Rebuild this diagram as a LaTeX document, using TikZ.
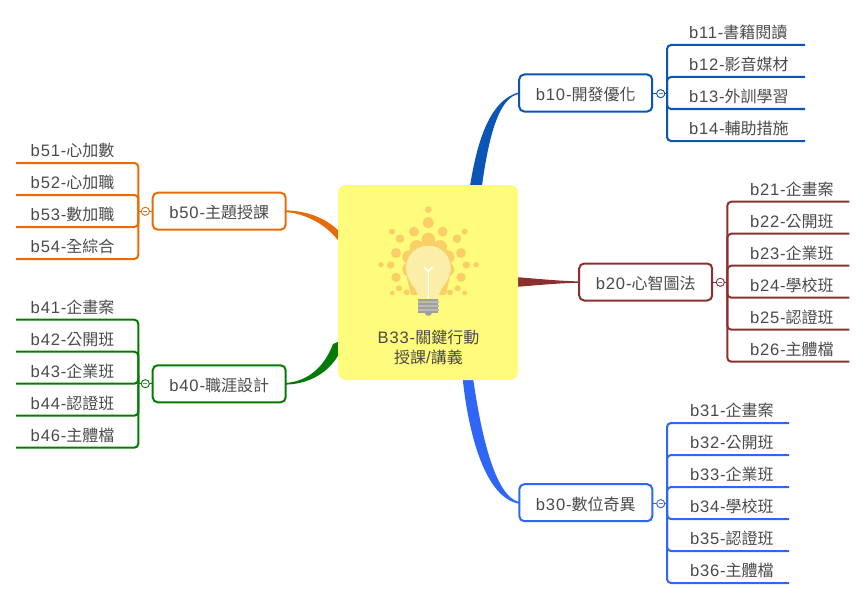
\documentclass[tikz,border=0pt]{standalone}
\usepackage{fontspec}
\setmainfont{Noto Sans CJK TC}
\newfontfamily\latf[LetterSpace=5]{Liberation Sans}
\newcommand{\lat}[1]{{\fontsize{16.6}{20}\latf #1}}
\usetikzlibrary{backgrounds}
\definecolor{cA}{HTML}{0A55B5}
\definecolor{cB}{HTML}{8E2F2F}
\definecolor{cC}{HTML}{2F66F8}
\definecolor{cD}{HTML}{067A06}
\definecolor{cE}{HTML}{E66C0A}
\definecolor{mainfill}{HTML}{FFFB7C}
\definecolor{inkc}{HTML}{4A4A4A}
\definecolor{sun}{HTML}{FBCF68}
\definecolor{glass}{HTML}{FBEEA8}
\tikzset{
  txt/.style={text=inkc,font=\fontsize{16}{20}\selectfont},
  topic/.style={txt,draw=#1,line width=2pt,fill=white,rounded corners=5pt,minimum width=133pt,minimum height=37pt,inner sep=0pt,outer sep=0pt,text height=15.5pt,text depth=0pt},
  collapse/.style={circle,draw=#1,line width=.8pt,fill=white,minimum size=8pt,inner sep=0pt,outer sep=0pt,
    path picture={\draw[inkc!70,line width=.6pt] ([xshift=-2pt]path picture bounding box.center)--([xshift=2pt]path picture bounding box.center);}},
  leaf/.style 2 args={txt,text width=#1,align=left,inner sep=0pt,outer sep=0pt,text height=13pt,text depth=6.7pt,execute at begin node={\hspace*{#2}}},
  leafline/.style={draw=#1,line width=2pt,rounded corners=4pt},
  stub/.style={draw=#1,line width=1.2pt},
  mainbox/.style={fill=mainfill,rounded corners=8pt,minimum width=180pt,minimum height=195pt,inner sep=0pt,outer sep=0pt},
}
\begin{document}
\begin{tikzpicture}[x=1pt,y=-1pt]
\useasboundingbox (0,0) rectangle (866,599);
% centre
\node[mainbox] (main) at (428,282.5) {};
\begin{scope}[shift={(375,200)},x=.3333pt,y=-.3333pt]
  \foreach \a in {0,36,...,324} \fill[sun] (160,190)+(\a+18:60) circle[radius=21];
  \fill[sun] (160,190) circle[radius=66];
  \fill[sun] (160,118) circle[radius=20];
  \fill[sun] (108,285)--(212,285)--(225,230)--(95,230)--cycle;
  \foreach \cx/\cy/\r in {160/29/10,160/68/17,117/95/15,203/95/15,75/116/13,246/116/13,51/95/9,269/95/9,63/159/15,258/159/15,47/195/11,274/195/11,18/194/8,303/194/8,63/232/14,258/232/14,72/265/9,248/265/9,95/277/9,225/277/9,52/279/7,269/279/7}
    \fill[sun] (\cx,\cy) circle[radius=\r];
  \fill[glass] (130,296) .. controls (130,265) and (93,245) .. (93,204) .. controls (93,166) and (124,137) .. (160,137) .. controls (196,137) and (227,166) .. (227,204) .. controls (227,245) and (190,265) .. (190,296) -- cycle;
  \draw[white,line width=1.3pt] (160,296) -- (160,214) (147,201) -- (160,214) -- (173,201);
  \fill[gray!75] (130,296) rectangle (190,338);
  \fill[gray!75] (148,338) -- (172,338) -- (165,347) -- (155,347) -- cycle;
  \foreach \yy in {302,314,326} \fill[gray!55] (128,\yy) rectangle (192,\yy+6);
\end{scope}
\node[txt,align=center] (maintext) at (428.5,347.5) {\lat{B33-}關鍵行動\\授課\lat{/}講義};
% main topics
\node[topic=cA] (b10) at (585.7,93) {\lat{b10-}開發優化};
\node[topic=cB] (b20) at (645.7,282) {\lat{b20-}心智圖法};
\node[topic=cC] (b30) at (585.8,502.7) {\lat{b30-}數位奇異};
\node[topic=cD] (b40) at (219.2,383.8) {\lat{b40-}職涯設計};
\node[topic=cE] (b50) at (219.2,211.2) {\lat{b50-}主題授課};
% collapse buttons
\node[collapse=cA] (c1) at (660.7,93.7) {};
\node[collapse=cB] (c2) at (720.3,282.3) {};
\node[collapse=cC] (c3) at (660.7,503.7) {};
\node[collapse=cD] (c4) at (145.3,383.7) {};
\node[collapse=cE] (c5) at (145.3,211.3) {};
% leaves b1
\foreach \n/\yy/\t in {b11/45/書籍閱讀,b12/77/影音媒材,b13/109/外訓學習,b14/141/輔助措施}
  \node[leaf={138pt}{22pt},anchor=south west] (\n) at (667,\yy) {\lat{\n-}\t};
% leaves b2
\foreach \n/\yy/\t in {b21/201.7/企畫案,b22/233.7/公開班,b23/265.7/企業班,b24/297.7/學校班,b25/329.7/認證班,b26/361.7/主體檔}
  \node[leaf={122pt}{22.7pt},anchor=south west] (\n) at (727.3,\yy) {\lat{\n-}\t};
% leaves b3
\foreach \n/\yy/\t in {b31/423/企畫案,b32/455/公開班,b33/487/企業班,b34/519/學校班,b35/551/認證班,b36/583/主體檔}
  \node[leaf={122pt}{23pt},anchor=south west] (\n) at (667,\yy) {\lat{\n-}\t};
% leaves b4
\foreach \n/\yy/\t in {b41/319.7/企畫案,b42/351.7/公開班,b43/383.7/企業班,b44/415.7/認證班,b46/447.7/主體檔}
  \node[leaf={122.3pt}{14.7pt},anchor=south west] (\n) at (16,\yy) {\lat{\n-}\t};
% leaves b5
\foreach \n/\yy/\t in {b51/163/心加數,b52/195/心加職,b53/227/數加職,b54/259/全綜合}
  \node[leaf={122.3pt}{14.7pt},anchor=south west] (\n) at (16,\yy) {\lat{\n-}\t};
% leaf connectors
\foreach \l in {b11,b12,b13,b14} \draw[leafline=cA] (c1.center -| \l.south west) -- (\l.south west) -- (\l.south east);
\foreach \l in {b21,b22,b23,b24,b25,b26} \draw[leafline=cB] (c2.center -| \l.south west) -- (\l.south west) -- (\l.south east);
\foreach \l in {b31,b32,b33,b34,b35,b36} \draw[leafline=cC] (c3.center -| \l.south west) -- (\l.south west) -- (\l.south east);
\foreach \l in {b41,b42,b43,b44,b46} \draw[leafline=cD] (c4.center -| \l.south east) -- (\l.south east) -- (\l.south west);
\foreach \l in {b51,b52,b53,b54} \draw[leafline=cE] (c5.center -| \l.south east) -- (\l.south east) -- (\l.south west);
% stubs box - button - bracket
\draw[stub=cA] (b10.east |- c1) -- (c1) (c1) -- (c1 -| b13.south west);
\draw[stub=cB] (b20.east |- c2) -- (c2) (c2) -- (c2 -| b23.south west);
\draw[stub=cC] (b30.east |- c3) -- (c3) (c3) -- (c3 -| b33.south west);
\draw[stub=cD] (b40.west |- c4) -- (c4) (c4) -- (c4 -| b43.south east);
\draw[stub=cE] (b50.west |- c5) -- (c5) (c5) -- (c5 -| b53.south east);
\foreach \c/\k in {c1/cA,c2/cB,c3/cC,c4/cD,c5/cE} \node[collapse=\k] at (\c) {};
% tapered branches under the boxes
\begin{pgfonlayer}{background}
\fill[cA] ([xshift=-48.6pt,yshift=-5pt]main.north east) .. controls (477,140) and (490,100) .. ([yshift=.8pt]b10.west) -- ([yshift=-.9pt]b10.west) .. controls (498,97) and (488,140) .. ([xshift=-36.6pt,yshift=-5pt]main.north east) -- cycle;
\fill[cB] ([xshift=-3pt,yshift=5.5pt]main.east) .. controls (540,279) and (560,281) .. ([yshift=.6pt]b20.west) -- ([yshift=-.8pt]b20.west) .. controls (560,283) and (540,285) .. ([xshift=-3pt,yshift=-4.5pt]main.east) -- cycle;
\fill[cC] ([xshift=-55.4pt,yshift=2pt]main.south east) .. controls (468,430) and (484,498) .. ([yshift=-1pt]b30.west) -- ([yshift=.7pt]b30.west) .. controls (496,497) and (482,440) .. ([xshift=-45pt,yshift=2pt]main.south east) -- cycle;
\fill[cD] ([yshift=-.8pt]b40.east) .. controls (310,384) and (330,372) .. ([xshift=2pt]main.west |- 340,352) -- ([xshift=2pt]main.west |- 340,341) -- (333,344) .. controls (325,365) and (310,381) .. ([yshift=.8pt]b40.east) -- cycle;
\fill[cE] ([yshift=.9pt]b50.east) .. controls (306,211) and (325,217) .. ([xshift=2pt]main.west |- 340,232) -- ([xshift=2pt]main.west |- 340,243) .. controls (328,226) and (308,214) .. ([yshift=-.8pt]b50.east) -- cycle;
\end{pgfonlayer}
\end{tikzpicture}
\end{document}
